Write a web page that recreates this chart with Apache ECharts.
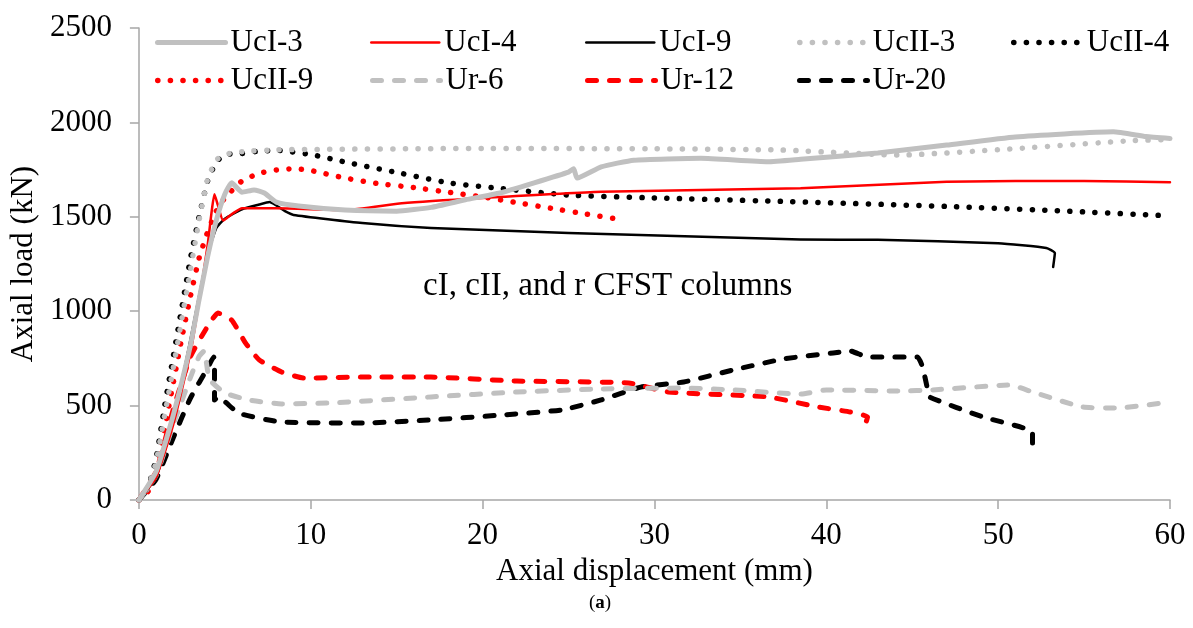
<!DOCTYPE html>
<html>
<head>
<meta http-equiv="Content-Type" content="text/html; charset=UTF-8">
<title>Axial load vs displacement</title>
<script src="https://cdn.jsdelivr.net/npm/echarts@6/dist/echarts.min.js"></script>
</head>
<body style="margin:0;background:#fff">
<div id="main" style="width: 1193px; height: 628px;"></div>
<script type="text/javascript">
    // [displacement (mm), load (kN)]
    var ucI3 = [[0,0],[1,150],[2,450],[3,820],[3.5,1060],[4,1290],[4.5,1480],[5,1620],[5.4,1680],[6,1630],[6.7,1642],[7.3,1626],[8,1578],[9.3,1557],[12,1536],[15,1530],[17,1550],[19,1590],[21,1626],[23,1680],[25,1737],[25.3,1755],[25.5,1705],[26.9,1764],[28.8,1800],[32.7,1810],[36.6,1792],[38.5,1805],[43,1838],[47,1880],[51,1923],[56.7,1950],[58.6,1925],[60,1915]];
    var ucI4 = [[0,0],[1,120],[2,400],[3,780],[3.5,1050],[4,1350],[4.4,1620],[4.6,1560],[4.9,1480],[5.5,1520],[6,1545],[8,1545],[12,1536],[15.3,1572],[20,1600],[26.9,1633],[38.5,1651],[47,1686],[55,1690],[60,1683]];
    var ucI9 = [[0,0],[1,120],[2,420],[3,850],[3.5,1080],[4,1300],[4.5,1440],[5,1490],[6,1540],[7,1565],[7.6,1578],[8.5,1530],[9,1510],[13,1467],[17,1441],[25,1414],[38.5,1380],[43,1378],[50,1360],[52.8,1335],[53.3,1308],[53.2,1234]];
    var ucII3 = [[0,0],[0.5,60],[1,200],[1.5,450],[2,700],[2.5,960],[3,1220],[3.5,1480],[4,1700],[4.5,1800],[5,1830],[6,1845],[8,1855],[20,1862],[30,1860],[37.3,1854],[44.3,1827],[50,1855],[57.7,1903],[60,1910]];
    var ucII4 = [[0,0],[0.5,60],[1,220],[1.5,500],[2,760],[2.5,1020],[3,1280],[3.5,1500],[4,1690],[4.5,1790],[5,1830],[6,1835],[7,1848],[8,1852],[10,1830],[12,1790],[15,1735],[18,1680],[21,1650],[25,1615],[30,1600],[38,1580],[47,1555],[54,1530],[60,1505]];
    var ucII9 = [[0,0],[0.5,40],[1,150],[1.5,380],[2,620],[2.5,860],[3,1080],[3.5,1280],[4,1420],[4.5,1530],[5,1600],[6,1690],[7,1730],[8,1748],[9,1755],[10,1745],[12,1705],[14,1675],[16,1655],[18,1630],[20,1605],[22,1575],[24,1545],[26,1515],[27.7,1490]];
    var ur6 = [[0,0],[1,130],[2,400],[3,650],[3.5,760],[3.8,790],[4.1,640],[5,567],[6.4,530],[8.3,509],[11.2,514],[17,546],[22,572],[26.9,588],[31.7,593],[34.6,583],[38.5,561],[40,583],[44.3,577],[46.2,583],[50.7,609],[52,572],[54.9,493],[56.9,487],[60,519]];
    var ur12 = [[0,0],[1,150],[2,480],[3,760],[4,920],[4.6,990],[5.4,953],[6.2,832],[7,742],[8.3,678],[9.6,646],[13.1,651],[17,651],[22,630],[28.5,620],[30.8,572],[36.6,546],[39.5,493],[41.4,466],[42.4,440],[42.3,408],[42.1,355]];
    var ur20 = [[0,0],[1,110],[2,330],[3,540],[4,700],[4.35,758],[4.4,705],[4.4,530],[4.6,546],[5.8,460],[8.3,413],[13.1,408],[17,424],[21.1,450],[24.6,477],[26.9,530],[29.2,598],[31.7,625],[34.6,689],[37.5,747],[40.4,779],[41.4,789],[42.4,757],[45.3,757],[45.6,705],[45.9,583],[46,546],[49.1,440],[52,360],[52,302]];

    var seriesNames = ['UcI-3','UcI-4','UcI-9','UcII-3','UcII-4','UcII-9','Ur-6','Ur-12','Ur-20'];
    var seriesData = [ucI3, ucI4, ucI9, ucII3, ucII4, ucII9, ur6, ur12, ur20];

    var GRAY = '#c0c0c0', RED = '#ff0000', BLACK = '#000000';
    var DOT = [0.1, 12.5], DASH = [9, 13];
    var styles = [
        {color: GRAY, width: 5, type: 'solid'},
        {color: RED, width: 2.5, type: 'solid'},
        {color: BLACK, width: 2.5, type: 'solid'},
        {color: GRAY, width: 5.5, type: DOT},
        {color: BLACK, width: 5.5, type: DOT},
        {color: RED, width: 5.5, type: DOT},
        {color: GRAY, width: 5, type: DASH},
        {color: RED, width: 5, type: DASH},
        {color: BLACK, width: 5, type: DASH}
    ];
    // legend slots (left px, top px)
    var legendPos = [[155,27],[370,27],[585,27],[797,27],[1011,27],[155,65],[370,65],[585,65],[797,65]];

    var font = 'Liberation Serif';
    var legends = seriesNames.map(function (n, i) {
        var s = styles[i];
        return {
            data: [n],
            left: legendPos[i][0],
            top: legendPos[i][1],
            itemWidth: 68,
            itemHeight: 14,
            itemGap: 0,
            padding: 0,
            itemStyle: {opacity: 0},
            lineStyle: {color: s.color, width: s.width, type: s.type, cap: 'round'},
            textStyle: {fontFamily: font, fontSize: 31, color: '#000'}
        };
    });

    var series = seriesNames.map(function (n, i) {
        var s = styles[i];
        return {
            name: n,
            type: 'line',
            data: seriesData[i],
            showSymbol: false,
            symbol: 'none',
            smooth: 0.15,
            animation: false,
            z: 10 - i,
            lineStyle: {color: s.color, width: s.width, type: s.type, cap: 'round', join: 'round'},
            itemStyle: {color: s.color}
        };
    });

    var chart = echarts.init(document.getElementById('main'));
    chart.setOption({
        backgroundColor: '#fff',
        animation: false,
        legend: legends,
        grid: {left: 137, right: 23, top: 28, bottom: 128},
        xAxis: {
            type: 'value', min: 0, max: 60, interval: 10,
            name: 'Axial displacement (mm)', nameLocation: 'middle', nameGap: 56,
            nameTextStyle: {fontFamily: font, fontSize: 31, color: '#000'},
            axisLine: {show: true, lineStyle: {color: '#a6a6a6', width: 1.5}},
            axisTick: {show: true, length: 9, lineStyle: {color: '#a6a6a6', width: 1.5}},
            axisLabel: {fontFamily: font, fontSize: 31, color: '#000', margin: 20,
                formatter: function (v) { return String(v); }},
            splitLine: {show: false}
        },
        yAxis: {
            type: 'value', min: 0, max: 2500, interval: 500,
            name: 'Axial load (kN)', nameLocation: 'middle', nameGap: 94, nameRotate: 90,
            nameTextStyle: {fontFamily: font, fontSize: 31, color: '#000'},
            axisLine: {show: true, lineStyle: {color: '#a6a6a6', width: 1.5}},
            axisTick: {show: true, length: 9, lineStyle: {color: '#a6a6a6', width: 1.5}},
            axisLabel: {fontFamily: font, fontSize: 31, color: '#000', margin: 27,
                formatter: function (v) { return String(v); }},
            splitLine: {show: false}
        },
        graphic: [
            {type: 'text', left: 423, top: 270, style: {text: 'cI, cII, and r CFST columns', font: '33px "Liberation Serif"', fill: '#000'}},
            {type: 'text', left: 589, top: 594, style: {
                text: '({b|a})', font: '19px "Liberation Serif"', fill: '#000',
                rich: {b: {fontFamily: font, fontSize: 19, fontWeight: 'bold'}}
            }}
        ],
        series: series
    });
</script>
</body>
</html>
